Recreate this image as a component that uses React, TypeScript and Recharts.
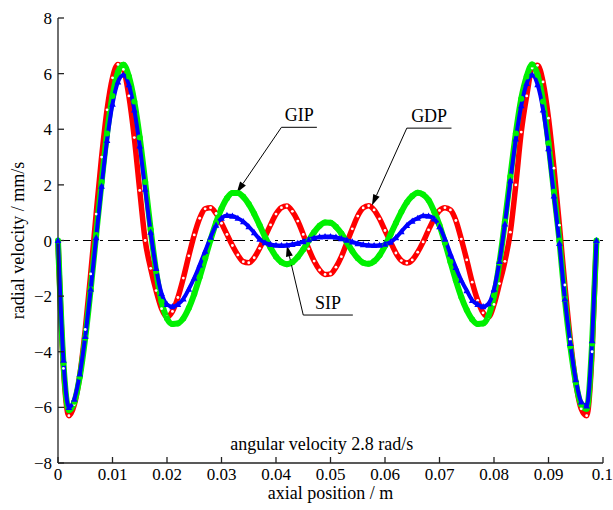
import React from 'react';
import { LineChart, Line, XAxis, YAxis, ReferenceLine, ReferenceDot } from 'recharts';

// axial positions (m)
const positions = [
  0, 0.001, 0.002, 0.003, 0.004, 0.005, 0.006, 0.007, 0.008, 0.009,
  0.01, 0.011, 0.012, 0.013, 0.014, 0.015, 0.016, 0.017, 0.018, 0.019,
  0.02, 0.021, 0.022, 0.023, 0.024, 0.025, 0.026, 0.027, 0.028, 0.029,
  0.03, 0.031, 0.032, 0.033, 0.034, 0.035, 0.036, 0.037, 0.038, 0.039,
  0.04, 0.041, 0.042, 0.043, 0.044, 0.045, 0.046, 0.047, 0.048, 0.049,
  0.05, 0.051, 0.052, 0.053, 0.054, 0.055, 0.056, 0.057, 0.058, 0.059,
  0.06, 0.061, 0.062, 0.063, 0.064, 0.065, 0.066, 0.067, 0.068, 0.069,
  0.07, 0.071, 0.072, 0.073, 0.074, 0.075, 0.076, 0.077, 0.078, 0.079,
  0.08, 0.081, 0.082, 0.083, 0.084, 0.085, 0.086, 0.087, 0.088, 0.089,
  0.09, 0.091, 0.092, 0.093, 0.094, 0.095, 0.096, 0.097, 0.098, 0.0988,
];

// radial velocity (mm/s)
const gdp = [
  0, -4.6, -6.3, -5.9, -4.85, -3.2, -1.2, 0.95, 3.0, 4.7,
  5.85, 6.33, 6.15, 5.2, 3.7, 1.8, 0.0, -1.0, -1.8, -2.45,
  -2.75, -2.55, -2.05, -1.35, -0.55, 0.2, 0.8, 1.14, 1.18, 0.97,
  0.62, 0.22, -0.18, -0.52, -0.76, -0.8, -0.62, -0.28, 0.14, 0.56,
  0.95, 1.18, 1.24, 1.05, 0.7, 0.22, -0.3, -0.74, -1.06, -1.22,
  -1.2, -0.96, -0.58, -0.08, 0.42, 0.88, 1.17, 1.25, 1.1, 0.78,
  0.36, -0.05, -0.45, -0.72, -0.81, -0.7, -0.42, -0.05, 0.38, 0.78,
  1.08, 1.18, 1.1, 0.72, 0.05, -0.7, -1.5, -2.15, -2.6, -2.75,
  -2.3, -1.55, -0.75, 0.3, 2.0, 3.9, 5.2, 6.2, 6.3, 5.7,
  4.4, 2.6, 0.55, -1.6, -3.55, -5.1, -6.05, -6.3, -4.0, 0,
];

const gip = [
  0, -4.4, -6.1, -5.8, -4.9, -3.5, -1.75, 0.2, 2.1, 3.85,
  5.2, 6.05, 6.32, 5.9, 5.0, 3.7, 2.1, 0.4, -1.1, -2.2,
  -2.8, -3.0, -2.98, -2.8, -2.43, -1.92, -1.31, -0.64, 0.03, 0.64,
  1.15, 1.52, 1.71, 1.71, 1.57, 1.31, 0.96, 0.55, 0.12, -0.26,
  -0.58, -0.78, -0.85, -0.78, -0.59, -0.32, 0.0, 0.3, 0.53, 0.65,
  0.64, 0.49, 0.25, -0.06, -0.38, -0.64, -0.8, -0.84, -0.75, -0.53,
  -0.19, 0.21, 0.63, 1.03, 1.37, 1.6, 1.72, 1.65, 1.45, 1.05,
  0.55, -0.08, -0.76, -1.43, -2.03, -2.5, -2.84, -3.0, -2.98, -2.7,
  -1.98, -0.8, 0.68, 2.3, 3.85, 5.1, 5.9, 6.33, 5.95, 5.0,
  3.5, 1.75, 0.0, -2.1, -3.8, -5.1, -5.9, -6.05, -3.7, 0,
];

const sip = [
  0, -4.3, -6.0, -5.7, -4.8, -3.45, -1.75, 0.1, 1.95, 3.6,
  4.9, 5.7, 5.95, 5.6, 4.7, 3.4, 1.85, 0.3, -1.0, -1.9,
  -2.3, -2.38, -2.3, -2.1, -1.75, -1.35, -0.88, -0.38, 0.12, 0.55,
  0.8, 0.9, 0.88, 0.8, 0.68, 0.5, 0.28, 0.05, -0.08, -0.14,
  -0.17, -0.18, -0.17, -0.14, -0.1, -0.04, 0.03, 0.09, 0.13, 0.14,
  0.14, 0.12, 0.07, 0.01, -0.05, -0.11, -0.15, -0.17, -0.18, -0.17,
  -0.13, -0.06, 0.1, 0.32, 0.54, 0.7, 0.8, 0.89, 0.88, 0.78,
  0.5, 0.05, -0.48, -0.97, -1.43, -1.8, -2.15, -2.3, -2.38, -2.27,
  -1.75, -0.75, 0.6, 2.15, 3.65, 4.85, 5.65, 5.95, 5.6, 4.7,
  3.3, 1.6, -0.1, -2.1, -3.7, -5.0, -5.8, -5.95, -3.6, 0,
];

const xTicks = [0, 0.01, 0.02, 0.03, 0.04, 0.05, 0.06, 0.07, 0.08, 0.09, 0.1];
const yTicks = [-8, -6, -4, -2, 0, 2, 4, 6, 8];

const chartData = positions.map((x, i) => ({ x, gdp: gdp[i], gip: gip[i], sip: sip[i] }));

const FONT = 'Liberation Serif';
const tickStyle = { fill: '#000', fontSize: 17, fontFamily: FONT };

const fmtY = (v: number) => (v < 0 ? `\u2212${Math.abs(v)}` : String(v));

const Triangle = (p: any) => {
  const { cx, cy } = p;
  if (cx == null || cy == null) return null;
  return (
    <polygon
      key={p.key}
      points={`${cx},${cy - 3.6} ${cx - 3.3},${cy + 2.6} ${cx + 3.3},${cy + 2.6}`}
      fill="#0000ff"
    />
  );
};

// leader line with a filled arrow head at the second point
const Arrow = (props: any) => {
  const { x1, y1, x2, y2 } = props;
  const ang = Math.atan2(y2 - y1, x2 - x1);
  const len = 11;
  const half = 3.5;
  const bx = x2 - len * Math.cos(ang);
  const by = y2 - len * Math.sin(ang);
  const pts = [
    `${x2},${y2}`,
    `${bx + half * Math.sin(ang)},${by - half * Math.cos(ang)}`,
    `${bx - half * Math.sin(ang)},${by + half * Math.cos(ang)}`,
  ].join(' ');
  return (
    <g>
      <line x1={x1} y1={y1} x2={bx} y2={by} stroke="#000" strokeWidth={1} />
      <polygon points={pts} fill="#000" />
    </g>
  );
};

const YTitle = ({ viewBox }: any) => {
  const cx = viewBox.x + 18;
  const cy = viewBox.y + viewBox.height / 2;
  return (
    <text
      x={cx}
      y={cy}
      transform={`rotate(-90 ${cx} ${cy})`}
      textAnchor="middle"
      dominantBaseline="central"
      fontSize={18}
      fontFamily={FONT}
      fill="#000"
    >
      radial velocity / mm/s
    </text>
  );
};

const tagLabel = (value: string) => ({
  value,
  position: 'top' as const,
  offset: 6,
  fill: '#000',
  fontSize: 18,
  fontFamily: FONT,
});

export default function App() {
  return (
    <div style={{ position: 'absolute', left: 0, top: 0, background: '#fff', fontFamily: FONT }}>
      <LineChart width={613} height={510} data={chartData} margin={{ top: 18, right: 10, left: 0, bottom: 0 }}>
        <XAxis
          dataKey="x"
          type="number"
          domain={[0, 0.1]}
          ticks={xTicks}
          tickFormatter={(v) => String(v)}
          tick={tickStyle}
          tickSize={-6}
          tickMargin={11}
          height={47}
          stroke="#222"
          strokeWidth={1.3}
          label={{ value: 'axial position / m', position: 'insideBottom', offset: 11, fill: '#000', fontSize: 18, fontFamily: FONT }}
        />
        <XAxis
          xAxisId="top"
          orientation="top"
          type="number"
          domain={[0, 0.1]}
          ticks={xTicks}
          tick={false}
          tickSize={-6}
          height={0}
          stroke="#222"
          strokeWidth={1.3}
        />
        <YAxis
          type="number"
          domain={[-8, 8]}
          ticks={yTicks}
          tickFormatter={fmtY}
          tick={tickStyle}
          tickSize={-6}
          tickMargin={12}
          width={58}
          stroke="#222"
          strokeWidth={1.3}
          label={<YTitle />}
        />
        <YAxis
          yAxisId="right"
          orientation="right"
          type="number"
          domain={[-8, 8]}
          ticks={yTicks}
          tick={false}
          tickSize={-6}
          width={0}
          stroke="#222"
          strokeWidth={1.3}
        />
        <ReferenceLine y={0} stroke="#000" strokeWidth={1.2} strokeDasharray="12 5 3 5" />
        <Line
          dataKey="gdp"
          type="monotone"
          stroke="#ff0000"
          strokeWidth={5.5}
          dot={{ r: 1.4, stroke: 'none', fill: '#fff' }}
          isAnimationActive={false}
        />
        <Line
          dataKey="gip"
          type="monotone"
          stroke="#00f000"
          strokeWidth={6}
          dot={{ r: 3, stroke: 'none', fill: '#00f000' }}
          isAnimationActive={false}
        />
        <Line
          dataKey="sip"
          type="monotone"
          stroke="#0000ff"
          strokeWidth={4}
          dot={Triangle}
          isAnimationActive={false}
        />
        <ReferenceLine segment={[{ x: 0.041, y: 4.07 }, { x: 0.0475, y: 4.07 }]} stroke="#000" strokeWidth={1} label={tagLabel('GIP')} />
        <ReferenceLine segment={[{ x: 0.041, y: 4.07 }, { x: 0.0328, y: 1.72 }]} shape={Arrow} />
        <ReferenceLine segment={[{ x: 0.064, y: 4.04 }, { x: 0.0722, y: 4.04 }]} stroke="#000" strokeWidth={1} label={tagLabel('GDP')} />
        <ReferenceLine segment={[{ x: 0.064, y: 4.04 }, { x: 0.0576, y: 1.26 }]} shape={Arrow} />
        <ReferenceLine segment={[{ x: 0.045, y: -2.68 }, { x: 0.0541, y: -2.68 }]} stroke="#000" strokeWidth={1} label={tagLabel('SIP')} />
        <ReferenceLine segment={[{ x: 0.045, y: -2.68 }, { x: 0.042, y: -0.18 }]} shape={Arrow} />
        <ReferenceDot
          x={0.0484}
          y={-7.3}
          r={0}
          stroke="none"
          fill="none"
          label={{ value: 'angular velocity 2.8 rad/s', position: 'center', fill: '#000', fontSize: 18, fontFamily: FONT }}
        />
      </LineChart>
    </div>
  );
}
